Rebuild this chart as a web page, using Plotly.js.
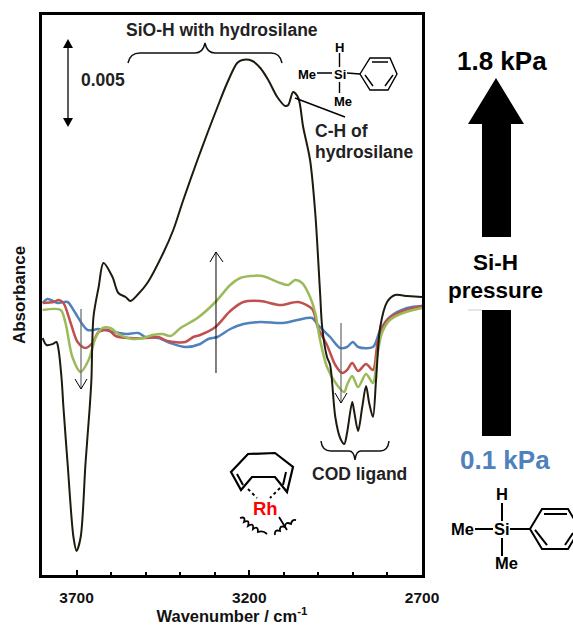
<!DOCTYPE html>
<html><head><meta charset="utf-8">
<script src="https://cdn.plot.ly/plotly-3.0.1.min.js"></script>
<style>html,body{margin:0;padding:0;background:#fff}</style></head>
<body><div id="chart" style="width:573px;height:625px"></div>
<script>
// Wavenumber (cm-1) and absorbance on an arbitrary scale (the 0.005 bar spans about 87 units)
const blackWn = [3798,3787,3769,3758,3752,3743,3738,3726,3709,3700,3688,3674,3662,3657,3651,3636,3622,3596,3579,3558,3544,3524,3495,3449,3420,3391,3350,3321,3292,3264,3235,3220,3191,3168,3145,3119,3096,3087,3073,3058,3044,3024,3009,2995,2989,2975,2966,2951,2937,2925,2917,2902,2897,2885,2873,2862,2853,2842,2833,2821,2801,2778,2743,2700];
const blackAbs = [237,230,231,233,225,195,168,112,38,24,38,112,167,195,258,288,312,298,282,278,274,280,292,322,345,375,415,442,468,492,512,515,514,507,495,478,469,470,483,477,448,415,362,282,248,218,210,158,137,131,142,173,165,144,168,189,172,158,195,248,273,280,279,278];
const greenWn = [3798,3746,3732,3712,3688,3665,3645,3625,3602,3579,3538,3506,3480,3451,3428,3399,3350,3298,3255,3226,3197,3162,3110,3087,3067,3047,3024,3009,2995,2975,2946,2925,2917,2902,2885,2862,2842,2830,2816,2793,2755,2700];
const greenAbs = [265,265,252,218,203,215,237,247,247,241,236,237,240,241,239,247,257,273,290,297,299,299,292,290,295,292,278,262,235,208,190,183,190,199,188,201,192,218,242,255,262,267];
const redWn = [3798,3766,3752,3738,3717,3697,3674,3654,3636,3608,3587,3544,3501,3463,3437,3385,3362,3342,3298,3255,3217,3168,3110,3058,3018,3001,2975,2951,2931,2917,2902,2885,2862,2842,2827,2801,2755,2700];
const redAbs = [272,273,275,272,252,233,227,232,243,245,239,237,237,238,234,233,238,240,248,264,273,274,270,273,266,247,230,210,202,205,212,204,211,205,235,255,264,269];
const blueWn = [3798,3784,3755,3726,3709,3668,3636,3593,3558,3521,3501,3463,3428,3385,3342,3319,3292,3255,3217,3168,3102,3061,3018,3001,2966,2937,2917,2900,2885,2842,2821,2793,2743,2700];
const blueAbs = [272,276,272,273,265,245,246,243,241,242,238,237,232,228,231,236,238,246,251,253,252,255,257,250,238,227,228,233,228,228,245,258,267,269];
const majorTicks = [3700,3200,2700];
const tickLabels = ['3700','3200','2700'];
const minorTicks = [3600,3500,3400,3300,3100,3000,2900,2800];

const FONT = 'Liberation Sans, Arial, sans-serif';
const L = 42, W = 380, B = 575, H = 560;
const X = p => (p - L) / W, Y = p => (B - p) / H;
// Overlay drawing (paper coordinates from page pixels)
const pth = s => s.replace(/(-?[\d.]+),(-?[\d.]+)/g, (m, a, b) => X(+a).toFixed(5) + ',' + Y(+b).toFixed(5));
const stroke = (d, color, width, dash) => ({type:'path', xref:'paper', yref:'paper', path:pth(d), line:{color, width, dash:dash||'solid'}, layer:'above'});
const fillP = (d, color) => ({type:'path', xref:'paper', yref:'paper', path:pth(d), fillcolor:color, line:{width:0}, layer:'above'});
const txt = (s, px, py, size, color, anchor) => ({xref:'paper', yref:'paper', x:X(px), y:Y(py), text:'<b>'+s+'</b>', showarrow:false, xanchor:anchor||'center', yanchor:'middle', font:{family:FONT, size, color:color||'#000'}, borderpad:0});

const shapes = [
  // 0.005 scale bar
  stroke('M68,45 L68,122', '#333', 1.6),
  fillP('M68,39 L73,48 L63,48 Z', '#000'),
  fillP('M68,127 L73,118 L63,118 Z', '#000'),
  // SiO-H brace
  stroke('M128,63 Q130,53 140,53 L195,53 Q203,53 205,43 Q207,53 215,53 L271,53 Q280,53 282,63', '#111', 1.5),
  // small molecule
  stroke('M339.5,53 L339.5,67 M317,73 L332,73 M347,73 L360,74 M339.5,82 L339.5,93', '#000', 1.4),
  stroke('M360,74 L370,58 L390,58 L397,74 L388,90 L370,90 Z', '#000', 1.4),
  stroke('M372,62 L388,62 M393,75 L385,86 M365,75 L373,86', '#000', 1.4),
  // C-H leader
  stroke('M295,98 L345,117', '#000', 1.4),
  // open arrows
  stroke('M216,373 L216,252 M210,262 L216,252 L223,262', '#000', 1),
  stroke('M81,309 L81,389', '#666', 1.2),
  stroke('M75,379 L81,389 L87,379', '#000', 1),
  stroke('M341,323 L341,403', '#666', 1.2),
  stroke('M335,393 L341,403 L347,393', '#000', 1),
  // COD brace
  stroke('M321,441 Q322,451 331,451 L349,451 Q354,451 355,460 Q356,451 361,451 L380,451 Q388,451 389,441', '#111', 1.5),
  // COD ring
  stroke('M231,472 L248,454 L275,453 L293,467 L287,492 L275,477 L252,477 L241,490 Z', '#000', 2.2),
  stroke('M237,474 L243,485 M286,472 L283,485', '#000', 2),
  stroke('M248,489 L257,498 M280,488 L270,498', '#000', 2, '3px,3px'),
  stroke('M240,518 Q246,516 244,522 Q250,519 248,526 Q254,522 253,529 Q258,525 258,532 Q263,530 267,534', '#000', 1.8),
  stroke('M275,535 Q274,529 280,531 Q279,525 285,527 Q285,521 291,524 Q292,519 296,520', '#000', 1.8),
  stroke('M279,517 L287,530', '#000', 1.8),
  // large pressure arrow
  fillP('M496,78 L524,124 L511,124 L511,237 L482,237 L482,124 L468,124 Z', '#000'),
  fillP('M482,310 L511,310 L511,436 L482,436 Z', '#000'),
  stroke('M468,310 L482,310', '#ccc', 1),
  // large molecule
  stroke('M502,503 L502,521 M475,529 L493,529 M510,529 L530,529 M502,538 L502,556', '#000', 2),
  stroke('M530,529 L542,509 L568,509 L580,529 L568,549 L542,549 Z', '#000', 2),
  stroke('M544,514 L567,514 M535,530 L547,545 M573,533 L565,545', '#000', 2)
];

const annotations = [
  txt('SiO-H with hydrosilane', 222, 30, 17.5, '#222'),
  txt('0.005', 103, 80, 17.5, '#222'),
  txt('C-H of', 314, 131, 17.5, '#222', 'left'),
  txt('hydrosilane', 314, 152, 17.5, '#222', 'left'),
  txt('H', 339.5, 47, 13),
  txt('Si', 339.5, 75, 13),
  txt('Me', 307, 75, 13),
  txt('Me', 343, 101, 13),
  txt('COD ligand', 359, 474, 17.5, '#222'),
  txt('Rh', 265, 508, 18.5, '#ff0000'),
  txt('1.8 kPa', 502, 61, 26),
  txt('Si-H', 495, 262, 22.5),
  txt('pressure', 495, 290, 22.5),
  txt('0.1 kPa', 505, 460, 26, '#4f81bd'),
  txt('H', 502, 494, 16.5),
  txt('Si', 502, 529, 16.5),
  txt('Me', 462, 529, 16.5),
  txt('Me', 507, 563, 16.5)
];

const series = (x, y, color, width, name) => ({x, y, name, type:'scatter', mode:'lines', line:{color, width, shape:'spline', smoothing:0.85}, hoverinfo:'skip'});

const data = [
  series(blueWn, blueAbs, '#4f81bd', 2.5, '0.1 kPa'),
  series(redWn, redAbs, '#c0504d', 2.5, 'mid 1'),
  series(greenWn, greenAbs, '#9bbb59', 2.5, 'mid 2'),
  series(blackWn, blackAbs, '#1f1a0f', 2, '1.8 kPa')
];

const layout = {
  width:573, height:625, showlegend:false,
  paper_bgcolor:'#fff', plot_bgcolor:'#fff',
  margin:{l:42, r:151, t:15, b:50, pad:0},
  font:{family:FONT, color:'#000'},
  xaxis:{
    range:[3800,2700], tickmode:'array', tickvals:majorTicks, ticktext:tickLabels.map(s=>'<b>'+s+'</b>'),
    ticks:'inside', ticklen:5, tickwidth:2, tickcolor:'#000', tickfont:{family:FONT, size:15.5, color:'#111'},
    ticklabelstandoff:6,
    minor:{tickmode:'array', tickvals:minorTicks, ticks:'inside', ticklen:3, tickwidth:2, tickcolor:'#000', showgrid:false},
    showline:true, linecolor:'#000', linewidth:3, mirror:true, showgrid:false, zeroline:false,
    title:{text:'<b>Wavenumber / cm<sup>-1</sup></b>', font:{family:FONT, size:16.5, color:'#111'}, standoff:9}
  },
  yaxis:{
    range:[0,560], showticklabels:false, ticks:'',
    showline:true, linecolor:'#000', linewidth:3, mirror:true, showgrid:false, zeroline:false,
    title:{text:'<b>Absorbance</b>', font:{family:FONT, size:17, color:'#111'}, standoff:10}
  },
  shapes, annotations
};
Plotly.newPlot('chart', data, layout, {displayModeBar:false, staticPlot:true});
</script></body></html>
